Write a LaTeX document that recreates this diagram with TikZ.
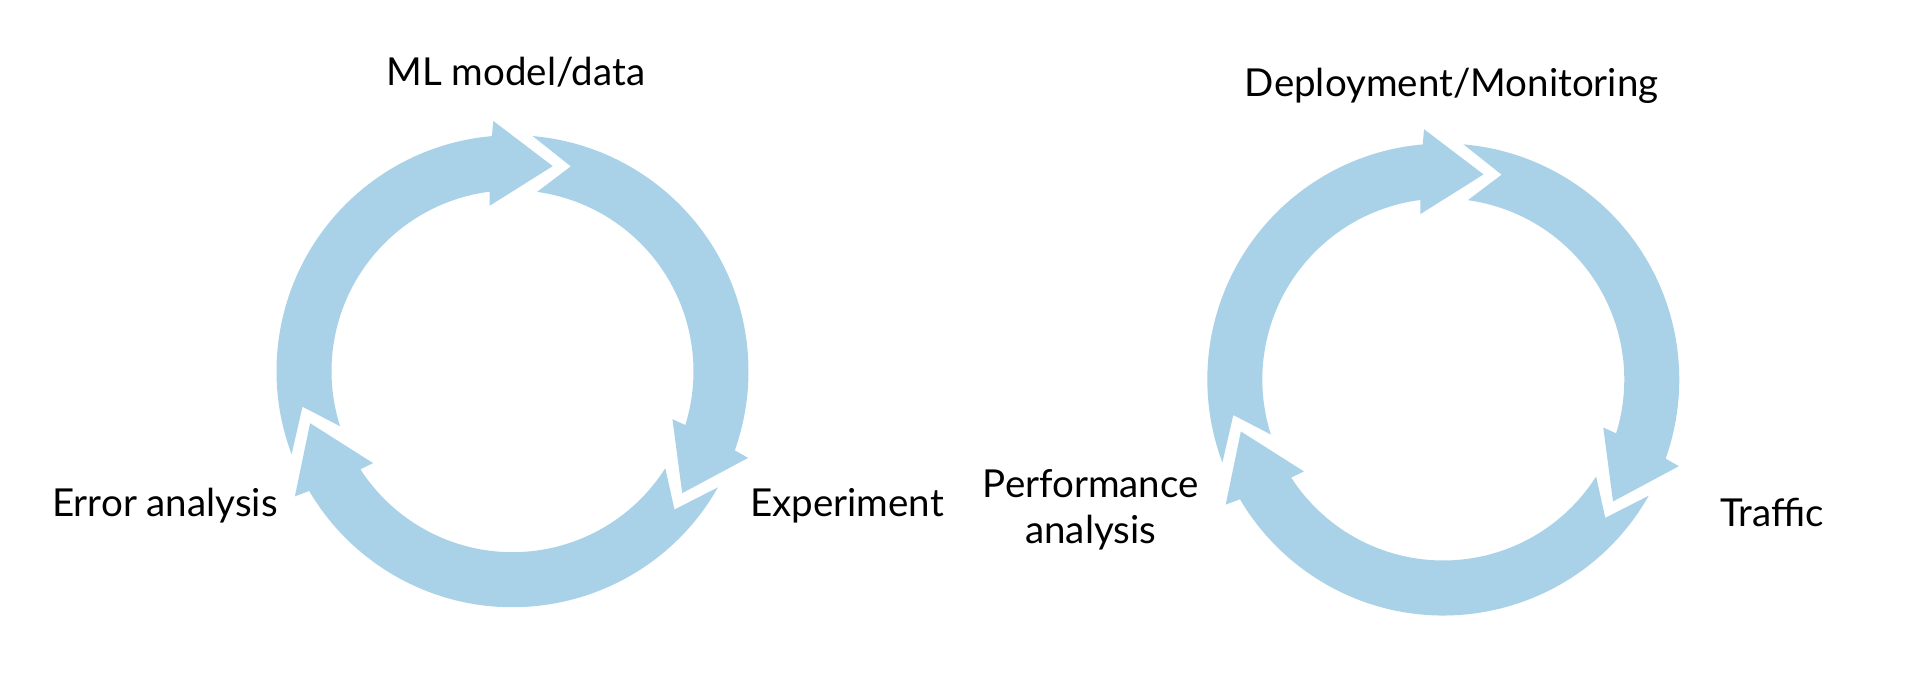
\documentclass[tikz,border=0pt]{standalone}
\usepackage{fontspec}
\setmainfont{Lato}
\definecolor{cycblue}{HTML}{A9D1E7}
\newcommand\cycarrow[2]{%
  \fill[cyc] ({#1+6.2}:236) arc[start angle={#1+6.2}, end angle={#2+16.1}, radius=236]
    -- ({#2+15.5}:251) -- ({#2}:209) -- ({#2+19}:167) -- ({#2+18.4}:181)
    arc[start angle={#2+18.4}, end angle={#1+3.3}, radius=181]
    -- ({#1-4.8}:213) -- cycle;}
\begin{document}
\begin{tikzpicture}[x=1pt,y=-1pt,
  cyc/.style={fill=cycblue},
  lbl/.style={font=\fontsize{38.5}{46.5}\selectfont, inner sep=0pt, text=black}]
\useasboundingbox (0,0) rectangle (1920,688);
\fill[white] (0,0) rectangle (1920,688);
% left cycle
\begin{scope}[shift={(512.5,371.2)}, y=1pt]
  \cycarrow{194.4}{78.9}
  \cycarrow{78.9}{-35.7}
  \cycarrow{-35.7}{-165.6}
\end{scope}
% right cycle
\begin{scope}[shift={(1443.3,379.5)}, y=1pt]
  \cycarrow{194.4}{78.9}
  \cycarrow{78.9}{-35.7}
  \cycarrow{-35.7}{-165.6}
\end{scope}
\node[lbl, anchor=base] (ml) at (515.8,85) {ML model/data};
\node[lbl, anchor=base west] (err) at (52,516.7) {Error analysis};
\node[lbl, anchor=base west] (exp) at (750,516.7) {Experiment};
\node[lbl, anchor=base] (dep) at (1451.7,96) {Deployment/Monitoring};
\node[lbl, align=center, anchor=center] (perf) at (1090.8,510) {Performance\\analysis};
\node[lbl, anchor=base west] (traf) at (1720,526.7) {Traffic};
\end{tikzpicture}
\end{document}
